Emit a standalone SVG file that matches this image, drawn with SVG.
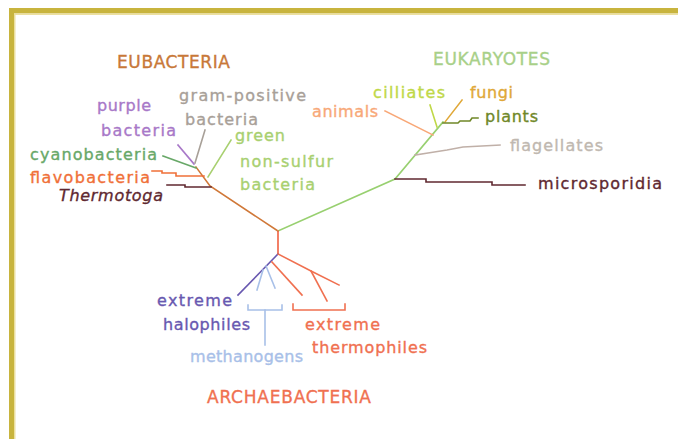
<svg xmlns="http://www.w3.org/2000/svg" width="678" height="439" viewBox="0 0 678 439">
<style>
text{font-family:"DejaVu Sans","Liberation Sans",sans-serif;font-size:16px;fill:currentColor;stroke:currentColor;stroke-width:0.35}
.t{font-size:17px}
.l{fill:none;stroke-width:1.6;stroke-linecap:square;stroke-linejoin:miter}
</style>
<rect width="678" height="439" fill="#ffffff"/>
<g id="frame">
<rect x="9" y="8" width="669" height="5.5" fill="#c8b43e"/>
<rect x="9" y="8" width="5" height="431" fill="#c8b43e"/>
<rect x="14" y="13.5" width="664" height="1.5" fill="#ece0a0"/>
<rect x="14" y="13.5" width="1.5" height="426" fill="#ece0a0"/>
</g>
<g id="connectors">
<polyline class="l" stroke="#d07838" points="278,231 210,186 196,167"/>
<polyline class="l" stroke="#98d070" points="278,231 395,179 443,122"/>
<line class="l" stroke="#f06040" x1="278" y1="231" x2="278" y2="254"/>
<line class="l" stroke="#a878c8" x1="178" y1="145" x2="194" y2="164"/>
<line class="l" stroke="#a8a098" x1="205" y1="130" x2="195" y2="163"/>
<line class="l" stroke="#68a868" x1="163" y1="156" x2="196" y2="168"/>
<line class="l" stroke="#a8d070" x1="231" y1="140" x2="208" y2="177"/>
<polyline class="l" stroke="#f07038" points="152,171 162,171 162,173 176,173 176,176 204,176"/>
<polyline class="l" stroke="#602830" points="167,185 185,185 185,187 211,187"/>
<polyline class="l" stroke="#602830" points="395,179 426,179 426,182 492,182 492,185 525,185"/>
<polyline class="l" stroke="#c0b0a8" points="415,155 428,153 447,150 463,147 500,145"/>
<line class="l" stroke="#f8a878" x1="385" y1="111" x2="433" y2="135"/>
<line class="l" stroke="#c0d848" x1="430" y1="105" x2="437" y2="127"/>
<line class="l" stroke="#e0a838" x1="462" y1="100" x2="445" y2="122"/>
<polyline class="l" stroke="#708828" points="443,123 458,123 460,121 470,121 472,118 478,118"/>
<line class="l" stroke="#6858b0" x1="278" y1="254" x2="238" y2="295"/>
<line class="l" stroke="#a8c0e8" x1="263" y1="270" x2="257" y2="290"/>
<line class="l" stroke="#a8c0e8" x1="266" y1="266" x2="275" y2="288"/>
<line class="l" stroke="#f07050" x1="272" y1="262" x2="302" y2="295"/>
<polyline class="l" stroke="#f07050" points="278,254 311,271 339,285"/>
<line class="l" stroke="#f07050" x1="311" y1="271" x2="327" y2="301"/>
<polyline class="l" stroke="#a8c0e8" points="248,305 248,310 282,310 282,305"/>
<line class="l" stroke="#a8c0e8" x1="265" y1="310" x2="265" y2="345"/>
<polyline class="l" stroke="#f07050" points="293,304 293,310 345,310 345,304"/>
</g>
<g id="eubacteria" color="#c87838"><text class="t" x="117" y="68" textLength="113">EUBACTERIA</text></g>
<g id="eukaryotes" color="#a8d088"><text class="t" x="433" y="65" textLength="117">EUKARYOTES</text></g>
<g id="archaebacteria" color="#f07050"><text class="t" x="207" y="403" textLength="164">ARCHAEBACTERIA</text></g>
<g id="gram-positive" color="#a8a098"><text x="179" y="101" textLength="127">gram-positive</text><text x="185" y="125" textLength="73">bacteria</text></g>
<g id="purple" color="#a878c8"><text x="97" y="111" textLength="54">purple</text><text x="101" y="136" textLength="75">bacteria</text></g>
<g id="green-nonsulfur" color="#a8d070"><text x="235" y="141" textLength="50">green</text><text x="240" y="167" textLength="93">non-sulfur</text><text x="240" y="190" textLength="75">bacteria</text></g>
<g id="cyanobacteria" color="#68a868"><text x="30" y="160" textLength="127">cyanobacteria</text></g>
<g id="flavobacteria" color="#f07038"><text x="30" y="183" textLength="120">flavobacteria</text></g>
<g id="thermotoga" color="#602830"><text x="59" y="201" textLength="104" font-style="italic">Thermotoga</text></g>
<g id="cilliates" color="#c0d848"><text x="373" y="98" textLength="72">cilliates</text></g>
<g id="fungi" color="#e0a838"><text x="470" y="98" textLength="43">fungi</text></g>
<g id="animals" color="#f8a878"><text x="312" y="117" textLength="66">animals</text></g>
<g id="plants" color="#708828"><text x="485" y="122" textLength="53">plants</text></g>
<g id="flagellates" color="#c0b8b0"><text x="510" y="151" textLength="93">flagellates</text></g>
<g id="microsporidia" color="#602830"><text x="538" y="189" textLength="124">microsporidia</text></g>
<g id="halophiles" color="#6858b0"><text x="157" y="306" textLength="75">extreme</text><text x="163" y="330" textLength="87">halophiles</text></g>
<g id="methanogens" color="#a8c0e8"><text x="190" y="362" textLength="113">methanogens</text></g>
<g id="thermophiles" color="#f07050"><text x="305" y="330" textLength="75">extreme</text><text x="312" y="353" textLength="115">thermophiles</text></g>
</svg>
